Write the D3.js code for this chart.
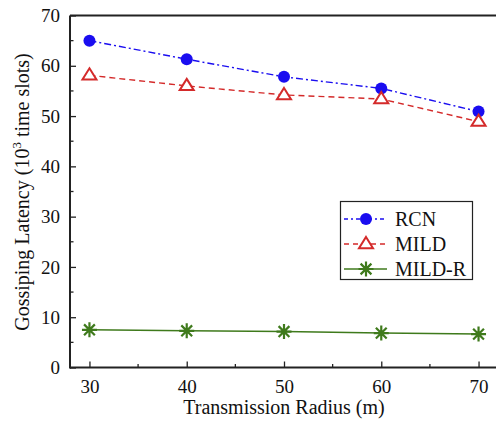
<!DOCTYPE html>
<html><head><meta charset="utf-8">
<script src="https://cdn.jsdelivr.net/npm/d3@7"></script>
<style>body{margin:0;background:#fff}svg{display:block}</style>
</head><body>
<svg id="chart" width="496" height="424" font-family="Liberation Serif">
<text x="284" y="414" text-anchor="middle" font-family="Liberation Serif" font-size="20" fill="#111">Transmission Radius (m)</text>
<text transform="translate(29,192) rotate(-90)" text-anchor="middle" font-family="Liberation Serif" font-size="20" fill="#111">Gossiping Latency (10<tspan font-size="13" dy="-8">3</tspan><tspan dy="8"> time slots)</tspan></text>
</svg>
<script>
const radii = [30, 40, 50, 60, 70];
const rcn = [65.0, 61.3, 57.8, 55.5, 50.9];
const mild = [58.1, 56.0, 54.2, 53.4, 48.9];
const mildR = [7.5, 7.3, 7.15, 6.85, 6.65];
const xTicks = [30, 40, 50, 60, 70];
const yTicks = [0, 10, 20, 30, 40, 50, 60, 70];
const seriesNames = ["RCN", "MILD", "MILD-R"];

const FONT = "Liberation Serif";
const svg = d3.select("#chart");
const x = d3.scaleLinear().domain([28, 72]).range([70, 498]);
const y = d3.scaleLinear().domain([0, 70]).range([367.5, 15.5]);

const series = [
  {name: seriesNames[0], vals: rcn, color: "#1a0df0", dash: "7,3,2,3", marker: "circle"},
  {name: seriesNames[1], vals: mild, color: "#d42a2a", dash: "6,4", marker: "triangle"},
  {name: seriesNames[2], vals: mildR, color: "#3f7a1c", dash: null, marker: "star"}
];

function drawMarker(g, type, cx, cy, color) {
  if (type === "circle") {
    g.append("circle").attr("cx", cx).attr("cy", cy).attr("r", 6).attr("fill", color);
  } else if (type === "triangle") {
    const s = 7;
    g.append("path").attr("d", `M${cx},${cy - s}L${cx + s},${cy + s * 0.6}L${cx - s},${cy + s * 0.6}Z`)
      .attr("fill", "#fff").attr("stroke", color).attr("stroke-width", 2);
  } else {
    const r = 7.5;
    let d = `M${cx - r},${cy}L${cx + r},${cy}M${cx},${cy - r}L${cx},${cy + r}`;
    const k = r * 0.72;
    d += `M${cx - k},${cy - k}L${cx + k},${cy + k}M${cx - k},${cy + k}L${cx + k},${cy - k}`;
    g.append("path").attr("d", d).attr("stroke", color).attr("stroke-width", 2.2).attr("fill", "none");
  }
}

// lines
const line = d3.line().x((d, i) => x(radii[i])).y(d => y(d));
series.forEach(s => {
  svg.append("path").datum(s.vals).attr("d", line).attr("fill", "none")
    .attr("stroke", s.color).attr("stroke-width", 1.4)
    .attr("stroke-dasharray", s.dash);
});
series.forEach(s => {
  const g = svg.append("g");
  s.vals.forEach((v, i) => drawMarker(g, s.marker, x(radii[i]), y(v), s.color));
});

// axes frame
const ax = svg.append("g");
ax.append("line").attr("x1", 70).attr("x2", 498).attr("y1", 15.5).attr("y2", 15.5).attr("stroke", "#222").attr("stroke-width", 2);
ax.append("line").attr("x1", 70).attr("x2", 498).attr("y1", 367.5).attr("y2", 367.5).attr("stroke", "#222").attr("stroke-width", 2);
ax.append("line").attr("x1", 70).attr("x2", 70).attr("y1", 15.5).attr("y2", 368.5).attr("stroke", "#222").attr("stroke-width", 2);

const xAxis = d3.axisBottom(x).tickValues(xTicks).tickSize(-6).tickPadding(12).tickFormat(d3.format("d"));
const gx = svg.append("g").attr("transform", "translate(0,367.5)").call(xAxis);
gx.attr("font-family", FONT).attr("font-size", 19);
gx.select(".domain").remove();
gx.selectAll("line").attr("stroke", "#222").attr("stroke-width", 1.3);
gx.selectAll("text").attr("font-family", FONT).attr("font-size", 19).attr("fill", "#111");
const minorX = [35, 45, 55, 65];
svg.append("g").selectAll("line").data(minorX).join("line")
  .attr("x1", d => x(d)).attr("x2", d => x(d)).attr("y1", 367.5).attr("y2", 364)
  .attr("stroke", "#222").attr("stroke-width", 1.3);

const yAxis = d3.axisLeft(y).tickValues(yTicks).tickSize(-6).tickPadding(10).tickFormat(d3.format("d"));
const gy = svg.append("g").attr("transform", "translate(70,0)").call(yAxis);
gy.attr("font-family", FONT).attr("font-size", 19);
gy.select(".domain").remove();
gy.selectAll("line").attr("stroke", "#222").attr("stroke-width", 1.3);
gy.selectAll("text").attr("font-family", FONT).attr("font-size", 19).attr("fill", "#111");
const minorY = [5, 15, 25, 35, 45, 55, 65];
svg.append("g").selectAll("line").data(minorY).join("line")
  .attr("x1", 70).attr("x2", 73.5).attr("y1", d => y(d)).attr("y2", d => y(d))
  .attr("stroke", "#222").attr("stroke-width", 1.3);

// legend
const lg = svg.append("g");
lg.append("rect").attr("x", 340.5).attr("y", 201.5).attr("width", 132).attr("height", 78)
  .attr("fill", "#fff").attr("stroke", "#222").attr("stroke-width", 1.2);
series.forEach((s, i) => {
  const cy = 219 + i * 25;
  lg.append("line").attr("x1", 344).attr("x2", 387).attr("y1", cy).attr("y2", cy)
    .attr("stroke", s.color).attr("stroke-width", 1.4).attr("stroke-dasharray", s.dash ? (i === 0 ? "4,3,2,3" : "5,4") : null);
  drawMarker(lg, s.marker, 366, cy, s.color);
  lg.append("text").attr("x", 395).attr("y", cy + 7).attr("font-family", FONT).attr("font-size", 20)
    .attr("fill", "#111").text(s.name);
});
</script>
</body></html>
